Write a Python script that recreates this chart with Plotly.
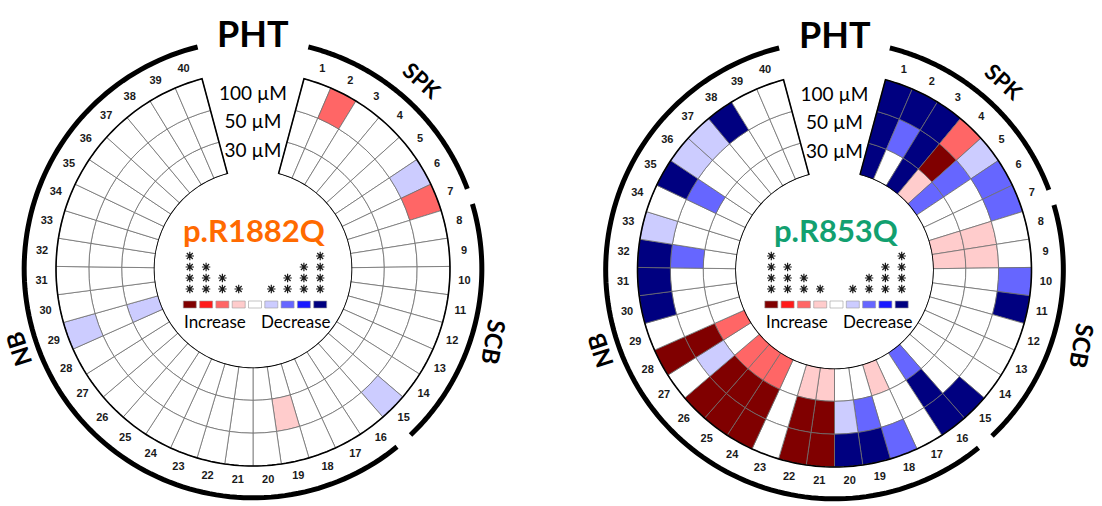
import numpy as np
import plotly.graph_objects as go

W, H = 1102, 506

# ---------------------------------------------------------------- data
sectors = list(range(1, 41))
ring_labels = ["30 µM", "50 µM", "100 µM"]
group_labels = ["PHT", "SPK", "SCB", "NB"]

# significance level per sector: +4..+1 increase (****..*), 0 none, -1..-4 decrease
r1882q_30 = [0, 0, 0, 0, 0, 0, 0, 0, 0, 0,
             0, 0, 0, 0, 0, 0, 0, 0, 0, 0,
             0, 0, 0, 0, 0, 0, 0, 0, -1, 0,
             0, 0, 0, 0, 0, 0, 0, 0, 0, 0]
r1882q_50 = [0, 0, 0, 0, 0, 0, 0, 0, 0, 0,
             0, 0, 0, 0, 0, 0, 0, 0, 1, 0,
             0, 0, 0, 0, 0, 0, 0, 0, 0, 0,
             0, 0, 0, 0, 0, 0, 0, 0, 0, 0]
r1882q_100 = [0, 2, 0, 0, 0, -1, 2, 0, 0, 0,
              0, 0, 0, 0, -1, 0, 0, 0, 0, 0,
              0, 0, 0, 0, 0, 0, 0, 0, -1, 0,
              0, 0, 0, 0, 0, 0, 0, 0, 0, 0]

r853q_30 = [-4, 0, -4, 1, -2, 0, 0, 1, 1, 0,
            0, 0, 0, 0, 0, -2, 0, 1, 0, 0,
            1, 1, 0, 2, 2, 2, 0, 2, 0, 0,
            0, 0, 0, 0, 0, 0, 0, 0, 0, 0]
r853q_50 = [-4, -2, -4, 4, -2, 0, 0, 1, 1, 0,
            0, 0, 0, 0, 0, -4, 0, 0, -2, -1,
            4, 4, 0, 4, 4, 4, -1, 4, 0, 0,
            0, -2, 0, 0, -2, 0, 0, 0, 0, 0]
r853q_100 = [-4, -4, -4, 2, -1, -2, -2, 0, 0, -2,
             -4, 0, 0, 0, -4, -4, 0, -2, -4, -4,
             4, 4, 0, 4, 4, 4, 0, 4, 0, -4,
             -4, -4, -1, 0, -4, -1, -1, -4, 0, 0]

legend_levels = [4, 3, 2, 1, 0, -1, -2, -3, -4]
level_colors = {4: "#800000", 3: "#FF1A1A", 2: "#FF6666", 1: "#FFCCCC", 0: "#FFFFFF",
                -1: "#CCCCFF", -2: "#6666FF", -3: "#1A1AFF", -4: "#000080"}

# ---------------------------------------------------------------- geometry
GAP = 30.0                          # open wedge at the top, degrees
STEP = (360.0 - GAP) / len(sectors)
theta = [GAP / 2 + (s - 0.5) * STEP for s in sectors]

R_PX = 236.0                        # radius of each polar subplot in px
HOLE_PX = 98.5
RING_PX = 32.83
hole = HOLE_PX / R_PX
r_max = (R_PX - HOLE_PX) / RING_PX
R_ARC = 3.97
R_NUM = 3.45

FONT = "Lato"
charts = [
    dict(name="polar", cx=253.0, cy=269.0, title="p.R1882Q", color="#FF6A00",
         rings=[r1882q_30, r1882q_50, r1882q_100], scb_r=252),
    dict(name="polar2", cx=834.5, cy=270.0, title="p.R853Q", color="#12A070",
         rings=[r853q_30, r853q_50, r853q_100], scb_r=259),
]


def to_paper(cx, cy, ang, rpx):
    a = np.deg2rad(ang)
    return (cx + rpx * np.sin(a)) / W, 1 - (cy - rpx * np.cos(a)) / H


def label(x, y, text, font, rot=0):
    return dict(x=x, y=y, xref="paper", yref="paper", text=text, showarrow=False,
                xanchor="center", yanchor="middle", textangle=rot, font=font)


fig = go.Figure()
annotations = []
shapes = []
layout_polars = {}

for ch in charts:
    sp = ch["name"]
    cx, cy = ch["cx"], ch["cy"]

    # heat-map cells, one ring per concentration
    for k, levels in enumerate(ch["rings"]):
        fig.add_trace(go.Barpolar(
            subplot=sp, theta=theta, r=[1] * len(sectors), base=[k] * len(sectors),
            width=[STEP] * len(sectors),
            marker=dict(color=[level_colors[v] for v in levels],
                        line=dict(color="#6E6E6E", width=0.8)),
            showlegend=False, hoverinfo="skip"))

    # black frame of the ring band
    arc = np.linspace(GAP / 2, 360 - GAP / 2, 241)
    fig.add_trace(go.Scatterpolar(
        subplot=sp, mode="lines",
        r=np.concatenate([[0], np.full(arc.size, 3.0), np.zeros(arc.size)]),
        theta=np.concatenate([[GAP / 2], arc, arc[::-1]]),
        line=dict(color="black", width=1.6), showlegend=False, hoverinfo="skip"))

    # group arcs
    for a0, a1 in [(14, 69.5), (73.5, 136.5), (141, 346)]:
        t = np.linspace(a0, a1, 120)
        fig.add_trace(go.Scatterpolar(
            subplot=sp, mode="lines", r=np.full(t.size, R_ARC), theta=t,
            line=dict(color="black", width=5), showlegend=False, hoverinfo="skip"))

    # sector numbers
    fig.add_trace(go.Scatterpolar(
        subplot=sp, mode="text", r=[R_NUM] * len(sectors), theta=theta,
        text=[str(s) for s in sectors], cliponaxis=False,
        textfont=dict(family="Liberation Sans", size=11, color="#1a1a1a", weight="bold"),
        showlegend=False, hoverinfo="skip"))

    # concentration labels in the open wedge
    fig.add_trace(go.Scatterpolar(
        subplot=sp, mode="text", r=[0.55, 1.45, 2.3], theta=[0, 0, 0],
        text=ring_labels, cliponaxis=False,
        textfont=dict(family=FONT, size=19, color="black"),
        showlegend=False, hoverinfo="skip"))

    x0, x1 = (cx - R_PX) / W, (cx + R_PX) / W
    y0, y1 = 1 - (cy + R_PX) / H, 1 - (cy - R_PX) / H
    layout_polars[sp] = dict(
        domain=dict(x=[x0, x1], y=[max(y0, 0), min(y1, 1)]),
        hole=hole, bgcolor="rgba(0,0,0,0)",
        radialaxis=dict(range=[0, r_max], visible=False),
        angularaxis=dict(direction="clockwise", rotation=90, visible=False))

    # group labels
    for lab, ang, rpx, rot, size in [("PHT", 0, 236, 0, 36), ("SPK", 42, 253, 42, 22),
                                     ("SCB", 107, ch["scb_r"], 100, 24),
                                     ("NB", 251, 248, -108, 24)]:
        px, py = to_paper(cx, cy, ang, rpx)
        annotations.append(label(px, py, lab,
                                 dict(family=FONT, size=size, color="black", weight="bold"), rot))

    # mutation name
    annotations.append(label((cx + 2) / W, 1 - 230 / H, ch["title"],
                             dict(family=FONT, size=31, color=ch["color"], weight="bold")))

    # colour key with significance stars
    key_step = 16.3
    star_x, star_y = [], []
    for i, lv in enumerate(legend_levels):
        kx = cx + 2 + (i - 4) * key_step
        shapes.append(dict(type="rect", xref="x", yref="y",
                           x0=kx - 6.5, x1=kx + 6.5, y0=301, y1=308,
                           fillcolor=level_colors[lv], line=dict(color="#9a9a9a", width=0.6)))
        for j in range(abs(lv)):
            star_x.append(kx)
            star_y.append(289 - 11 * j)
    fig.add_trace(go.Scatter(x=star_x, y=star_y, mode="markers",
                             marker=dict(symbol="asterisk-open", size=7, color="#1a1a1a",
                                         line=dict(color="#1a1a1a", width=1.2)),
                             showlegend=False, hoverinfo="skip", cliponaxis=False))
    for lab, off in [("Increase", -38), ("Decrease", 43)]:
        annotations.append(label((cx + off) / W, 1 - 321 / H, lab,
                                 dict(family=FONT, size=17, color="black")))

fig.update_layout(
    width=W, height=H, margin=dict(l=0, r=0, t=0, b=0),
    paper_bgcolor="white", plot_bgcolor="rgba(0,0,0,0)",
    xaxis=dict(range=[0, W], visible=False, domain=[0, 1], fixedrange=True),
    yaxis=dict(range=[H, 0], visible=False, domain=[0, 1], fixedrange=True),
    annotations=annotations, shapes=shapes, showlegend=False,
    **layout_polars)

fig.write_html("out.html", config={"displayModeBar": False})
